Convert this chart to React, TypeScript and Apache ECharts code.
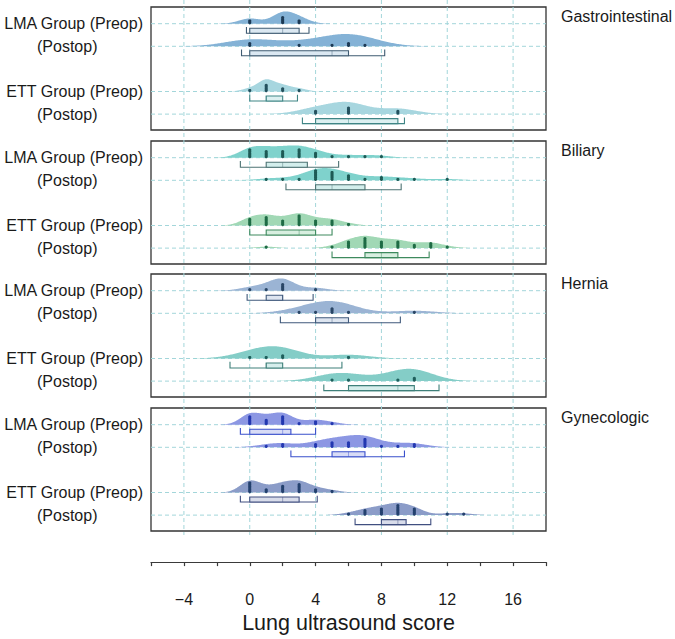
import React, { useEffect, useRef } from "react";
import * as echarts from "echarts";

const panelNames = ["Gastrointestinal", "Biliary", "Hernia", "Gynecologic"];
const rowLabels = ["LMA Group (Preop)", "(Postop)", "ETT Group (Preop)", "(Postop)"];
const gridValues = [-4, 0, 4, 8, 12, 16];
const axisTitle = "Lung ultrasound score";

// individual scores: [score, number of patients at that score]
const giDots = [
  [[0, 2], [2, 4], [3, 2]],
  [[0, 2], [3, 1], [5, 1], [6, 2], [7, 1]],
  [[0, 1], [1, 4], [2, 2], [3, 1]],
  [[4, 2], [6, 4], [9, 2]],
];
const biliaryDots = [
  [[0, 5], [1, 4], [2, 4], [3, 5], [4, 3], [5, 1], [6, 1], [7, 1], [8, 1]],
  [[1, 1], [2, 1], [3, 1], [4, 6], [5, 5], [6, 3], [7, 1], [8, 2], [9, 1], [10, 1], [12, 1]],
  [[0, 4], [1, 5], [2, 3], [3, 6], [4, 3], [5, 3], [6, 1]],
  [[1, 1], [5, 1], [6, 4], [7, 6], [8, 4], [9, 4], [10, 2], [11, 3], [12, 1]],
];
const herniaDots = [
  [[0, 1], [1, 1], [2, 4], [4, 1]],
  [[3, 1], [4, 1], [5, 3], [6, 1], [10, 1]],
  [[0, 1], [1, 1], [2, 2], [6, 1]],
  [[5, 1], [6, 1], [9, 1], [10, 2]],
];
const gynDots = [
  [[0, 5], [1, 3], [2, 5], [3, 1], [4, 2], [5, 1]],
  [[1, 1], [2, 2], [4, 2], [5, 3], [6, 3], [7, 5], [8, 1], [9, 1], [10, 2]],
  [[0, 6], [1, 2], [2, 4], [3, 5], [4, 2], [5, 1]],
  [[6, 1], [7, 3], [8, 4], [9, 6], [10, 4], [12, 1], [13, 1]],
];

// box: [whisker low, Q1, median, Q3, whisker high]
const giBox = [
  [-0.2, 0, 2, 3, 3.6],
  [-0.5, 0, 5, 6, 8.2],
  [0, 1, 1, 2, 2.9],
  [3.2, 4, 6, 9, 9.4],
];
const biliaryBox = [
  [-0.57, 1, 2, 3.5, 5.4],
  [2.2, 4, 5, 7, 9.2],
  [0, 1, 3, 4, 5],
  [5, 7, 8, 9, 10.9],
];
const herniaBox = [
  [-0.16, 1, 2, 2, 3.85],
  [1.86, 4, 5, 6, 9.15],
  [-1.2, 1, 1, 2, 5.6],
  [4.5, 6, 9, 10, 11.5],
];
const gynBox = [
  [-0.57, 0, 2, 2.5, 4.0],
  [2.5, 5, 6, 7, 9.4],
  [-0.57, 0, 2, 3, 4.1],
  [6.4, 8, 9, 9.5, 11],
];

// kernel density bandwidths
const giBw = [0.65, 1.5, 0.5, 1.15];
const biliaryBw = [0.72, 0.85, 0.62, 0.62];
const herniaBw = [0.75, 1.3, 1.3, 1.3];
const gynBw = [0.6, 0.9, 0.6, 0.65];

const allDots = [giDots, biliaryDots, herniaDots, gynDots];
const allBox = [giBox, biliaryBox, herniaBox, gynBox];
const allBw = [giBw, biliaryBw, herniaBw, gynBw];

// styles
const violinFill = [
  ["#84b2d6", "#a7d6df"],
  ["#7fd2cc", "#a1d8b5"],
  ["#9bb4d4", "#84cdc7"],
  ["#8c97e3", "#8b9cc8"],
];
const dotColor = [
  ["#1d3a55", "#24515e"],
  ["#1e5a55", "#1e6b45"],
  ["#2a4666", "#1f5f5c"],
  ["#2338b0", "#24416e"],
];
const boxStroke = [
  ["#3f5b72", "#3f8585"],
  ["#4d7373", "#3e8a5e"],
  ["#405a7c", "#3f807a"],
  ["#3a50cc", "#404f80"],
];
const boxFill = [
  ["#dbe8f2", "#dcf0f1"],
  ["#d3eeec", "#d8efe0"],
  ["#dde5f0", "#d6eeec"],
  ["#d8dcf6", "#d8dcea"],
];
const gridColor = "#a3d6da";
const FONT = '"Liberation Sans", Arial, sans-serif';

const X_MIN = -6;
const X_MAX = 18;
const PLOT_LEFT = 151;
const PLOT_WIDTH = 395;
const panelTops = [7, 141, 274, 408];
const PANEL_H = 123;
const rowY = [1, 2, 4, 5];
const Y_MIN = 0.261;
const Y_MAX = 5.703;
const VIOLIN_H = 12.3;
const DOT_OFF = 1.7;

function kde(pts: number[][], bw: number) {
  const vals = pts.map((p) => p[0]);
  const lo = Math.min(...vals) - 3 * bw;
  const hi = Math.max(...vals) + 3 * bw;
  const n = 240;
  const xs: number[] = [];
  const ds: number[] = [];
  for (let i = 0; i <= n; i++) {
    const x = lo + ((hi - lo) * i) / n;
    let d = 0;
    for (const [v, c] of pts) {
      const z = (x - v) / bw;
      d += c * Math.exp(-0.5 * z * z);
    }
    xs.push(x);
    ds.push(d);
  }
  const m = Math.max(...ds);
  return { xs, ds: ds.map((d) => d / m) };
}

function panelSeries(p: number) {
  const dens = allDots[p].map((d, r) => kde(d, allBw[p][r]));
  return {
    type: "custom",
    xAxisIndex: p + 1,
    yAxisIndex: p + 1,
    z: 3,
    silent: true,
    data: rowY.map((y, r) => [allBox[p][r][2], y]),
    renderItem: (params: any, api: any) => {
      const r = params.dataIndex;
      const y = rowY[r];
      const base = api.coord([0, y])[1];
      const X = (v: number) => api.coord([v, y])[0];
      const g = r < 2 ? 0 : 1;
      const children: any[] = [];
      children.push({
        type: "line",
        shape: { x1: X(X_MIN), y1: base, x2: X(X_MAX), y2: base },
        style: { stroke: gridColor, lineWidth: 1, lineDash: [4, 3] },
      });
      const { xs, ds } = dens[r];
      const pts: number[][] = [[X(xs[0]), base]];
      xs.forEach((x, k) => pts.push([X(x), base - ds[k] * VIOLIN_H]));
      pts.push([X(xs[xs.length - 1]), base]);
      children.push({
        type: "polygon",
        shape: { points: pts },
        style: { fill: violinFill[p][g] },
      });
      const [wl, q1, md, q3, wh] = allBox[p][r];
      const stroke = boxStroke[p][g];
      const bTop = base + 4.5;
      const bBot = base + 9.5;
      const cTop = base + 3.3;
      children.push({
        type: "polyline",
        shape: { points: [[X(wl), cTop], [X(wl), bBot], [X(wh), bBot], [X(wh), cTop]] },
        style: { stroke, lineWidth: 1.1, fill: null },
      });
      children.push({
        type: "rect",
        shape: { x: X(q1), y: bTop, width: X(q3) - X(q1), height: bBot - bTop },
        style: { stroke, lineWidth: 1.1, fill: boxFill[p][g] },
      });
      children.push({
        type: "line",
        shape: { x1: X(md), y1: bTop, x2: X(md), y2: bBot },
        style: { stroke, lineWidth: 0.8, opacity: 0.55 },
      });
      for (const [v, c] of allDots[p][r]) {
        for (let k = 0; k < c; k++) {
          children.push({
            type: "circle",
            shape: { cx: X(v), cy: base - 1.0 - k * DOT_OFF, r: 1.6 },
            style: { fill: dotColor[p][g] },
          });
        }
      }
      return { type: "group", children };
    },
  };
}

export default function App() {
  const ref = useRef<HTMLDivElement>(null);
  useEffect(() => {
    if (!ref.current) return;
    const chart = echarts.init(ref.current, undefined, { renderer: "svg" });
    const grids: any[] = [
      { left: PLOT_LEFT, top: 0, width: PLOT_WIDTH, height: 568, show: false },
    ];
    const xAxes: any[] = [
      {
        gridIndex: 0,
        type: "value",
        min: X_MIN,
        max: X_MAX,
        interval: 2,
        position: "bottom",
        axisLine: { show: true, lineStyle: { color: "#3a3a3a", width: 1.2 } },
        axisTick: { show: true, length: 4, lineStyle: { color: "#3a3a3a", width: 1.2 } },
        axisLabel: {
          fontSize: 16,
          color: "#1a1a1a",
          fontFamily: FONT,
          margin: 29,
          formatter: (v: number) =>
            gridValues.includes(v) ? (v < 0 ? "\u2212" + Math.abs(v) : String(v)) : "",
        },
        splitLine: { show: false },
        name: axisTitle,
        nameLocation: "middle",
        nameGap: 46,
        nameTextStyle: { fontSize: 21.5, color: "#1a1a1a", fontFamily: FONT },
      },
    ];
    const yAxes: any[] = [{ gridIndex: 0, type: "value", min: 0, max: 1, show: false }];
    panelTops.forEach((top, i) => {
      grids.push({
        left: PLOT_LEFT,
        top,
        width: PLOT_WIDTH,
        height: PANEL_H,
        show: true,
        borderColor: "#333333",
        borderWidth: 1.3,
        backgroundColor: "transparent",
      });
      xAxes.push({ gridIndex: i + 1, type: "value", min: X_MIN, max: X_MAX, show: false });
      yAxes.push({
        gridIndex: i + 1,
        type: "value",
        min: Y_MIN,
        max: Y_MAX,
        inverse: true,
        show: false,
      });
    });

    const gridSeries = {
      type: "custom",
      xAxisIndex: 0,
      yAxisIndex: 0,
      z: 1,
      silent: true,
      data: gridValues.map((v) => [v, 0]),
      renderItem: (params: any, api: any) => {
        const x = api.coord([api.value(0), 0])[0];
        return {
          type: "line",
          shape: { x1: x, y1: 0, x2: x, y2: 535 },
          style: { stroke: gridColor, lineWidth: 1, lineDash: [4, 3] },
        };
      },
    };

    const texts: any[] = [];
    panelTops.forEach((top, p) => {
      const rowOff = rowY.map((y) => ((y - Y_MIN) / (Y_MAX - Y_MIN)) * PANEL_H);
      rowLabels.forEach((lab, r) => {
        const isPre = r % 2 === 0;
        texts.push({
          type: "text",
          x: isPre ? 143 : 37,
          y: top + rowOff[r],
          style: {
            text: lab,
            font: `16px ${FONT}`,
            fill: "#1a1a1a",
            textAlign: isPre ? "right" : "left",
            textVerticalAlign: "middle",
          },
        });
      });
      texts.push({
        type: "text",
        x: 561,
        y: top + 9,
        style: {
          text: panelNames[p],
          font: `16px ${FONT}`,
          fill: "#1a1a1a",
          textAlign: "left",
          textVerticalAlign: "middle",
        },
      });
    });

    chart.setOption({
      animation: false,
      backgroundColor: "#ffffff",
      grid: grids,
      xAxis: xAxes,
      yAxis: yAxes,
      graphic: texts,
      series: [gridSeries, ...panelTops.map((_, p) => panelSeries(p))],
    });
    return () => chart.dispose();
  }, []);
  return (
    <div
      ref={ref}
      style={{ position: "fixed", left: 0, top: 0, width: 675, height: 639 }}
    />
  );
}
